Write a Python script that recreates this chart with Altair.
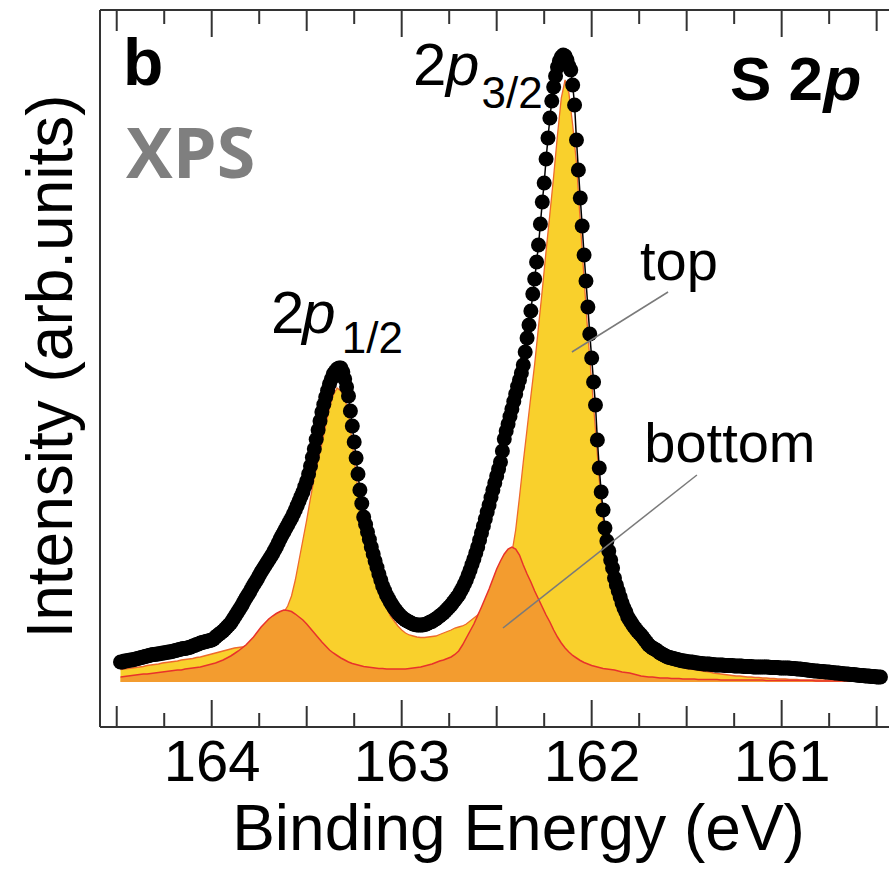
import altair as alt
import pandas as pd

# ---------------- data ----------------
E_START = 164.48          # first binding energy (eV)
DATA_STEP = 0.01          # spacing of measured points (eV)
FIT_STEP = 0.02           # spacing of fitted component curves (eV)

# measured S 2p intensity (arb. units), from 164.48 eV towards lower energy
data_intensity = [
    20, 20, 21, 21, 21.5, 22, 22, 22.5, 23, 23.5,
    24, 24.5, 25, 25.5, 26, 26.5, 27, 27.5, 27.5, 28,
    28, 28.5, 29, 29, 29.5, 30, 30, 30.5, 31, 31.5,
    32, 32.5, 33, 33.5, 33.5, 34, 34.5, 35, 36, 36.5,
    37.5, 38, 39, 39.5, 40, 40.5, 41, 41.5, 42, 43,
    45, 46.5, 48, 49.5, 51, 53, 55, 57, 59, 62,
    65, 68, 71, 74, 77, 80.5, 84, 87, 90, 93.5,
    97, 100, 103, 106.5, 110, 113, 116, 119, 122, 125,
    128, 131.5, 135, 139, 143, 146.5, 150, 153.5, 157, 160.5,
    164, 168, 172, 176.5, 181, 185.5, 190, 195.5, 201, 208,
    216, 224.5, 233, 242.5, 252, 261, 270, 277.5, 285, 291.5,
    298, 303, 308, 310.5, 313, 314, 314, 310, 303, 295,
    286, 271, 256, 240, 224, 208, 192, 178.5, 165, 157.5,
    150, 142.5, 135, 128, 121, 114.5, 108, 102, 96, 91.5,
    87, 83.5, 80, 77, 74, 71.5, 69, 67, 65, 63.5,
    62, 61, 60, 59, 58, 57.5, 57, 57, 57, 57,
    57.5, 58, 59, 60, 60.5, 62, 63, 64.5, 66, 67.5,
    69, 71, 73, 75, 77, 79.5, 82, 84.5, 87, 90.5,
    94, 98, 102, 107, 112, 117.5, 123, 129, 135, 142,
    149, 156, 163, 170, 177, 184.5, 192, 199, 206, 213,
    220, 231, 243, 251, 258, 265.5, 273, 280.5, 288, 295.5,
    302, 309, 317, 330, 344, 357, 371, 388, 403, 420,
    437, 458, 480, 499, 523, 544, 564, 581, 595, 606,
    615, 621, 625, 627, 626, 622, 616, 612, 597, 577,
    542, 512, 484, 456, 427, 401, 375, 348, 324, 300,
    277, 242, 214, 190, 172, 154, 141, 131, 122, 114,
    104, 97, 91, 85, 79, 74, 70, 65, 62, 59,
    56, 53.5, 51, 49, 47, 44.5, 42, 39.5, 37, 35.5,
    34, 33, 32, 30.5, 29, 28, 27, 26, 25, 24.5,
    24, 23.5, 23, 22.5, 22, 21.5, 21, 21, 20.5, 20,
    20, 20, 19.5, 19, 19, 18.5, 18.5, 18, 18, 18,
    18, 17.5, 17.5, 17, 17, 17, 17, 17, 16.5, 16.5,
    16.5, 16.5, 16.5, 16, 16, 16, 16, 16, 15.5, 15.5,
    15.5, 15.5, 15.5, 15, 15, 15, 15, 15, 15, 15,
    15, 15, 14.5, 14.5, 14.5, 14.5, 14.5, 14, 14, 14,
    14, 14, 14, 13.5, 13.5, 13.5, 13, 13, 13, 12.5,
    12.5, 12, 12, 11.5, 11.5, 11, 11, 11, 10.5, 10.5,
    10.5, 10, 10, 10, 9.5, 9.5, 9, 9, 9, 8.5,
    8.5, 8, 8, 8, 7.5, 7.5, 7.5, 7, 7, 6.5,
    6.5, 6.5, 6, 6, 6, 5.5, 5.5, 5.5, 5, 5,
    5,
]

# fitted "top" component (yellow), from 164.48 eV in FIT_STEP steps
top_component = [
    12.5, 13, 13.5, 14, 14.5, 15, 15.5, 16.5, 17, 17.5,
    18, 19, 19.5, 20, 20.5, 21, 22, 22.5, 23, 23.5,
    24.5, 25, 26, 27, 28, 29, 30, 31, 32, 33,
    34, 34.5, 35, 36.5, 38.5, 41, 43.5, 46, 50, 53,
    57, 61, 65, 70, 76, 86, 102, 122, 142, 162,
    184, 204, 222, 238, 257, 274, 287, 294, 291, 284,
    269, 239, 207, 177, 150, 135, 120, 107, 93, 83,
    75, 66, 61, 56, 52, 49, 47, 46, 45, 44.5,
    44.5, 45, 45.5, 46, 47.5, 49, 50.5, 52, 54, 55,
    56, 58, 61, 64, 67, 72, 77, 83, 89, 96,
    102, 109, 120, 129, 152, 185, 220, 253, 286, 318,
    355, 392, 431, 468, 506, 547, 584, 602, 589, 557,
    519, 460, 403, 348, 300, 252, 202, 163, 136, 114,
    96, 83, 72, 65, 58, 52, 47, 42, 38, 34,
    30, 27, 24.5, 22, 20, 18.5, 17, 15.5, 14.5, 13.5,
    13, 12.5, 12, 11, 10.5, 10, 9, 8.5, 8, 7.5,
    7, 6.5, 6, 6, 5.5, 5, 5, 4.5, 4.5, 4,
    4, 3.5, 3.5, 3, 3, 3, 2.5, 2.5, 2.5, 2,
    2, 2, 2, 2, 2, 2, 2, 2, 2, 2,
    1.5, 1.5, 1.5, 1.5, 1.5, 1.5, 1.5, 1, 1, 1, 1,
]

# fitted "bottom" component (orange), same energies
bottom_component = [
    5, 5.5, 6, 6.5, 7, 7.5, 8, 8, 8.5, 9,
    9.5, 10, 10.5, 11, 11.5, 12, 12, 13, 13.5, 14,
    14.5, 15, 16, 17, 18, 19, 20.5, 22, 24, 26,
    28.5, 31, 34, 37, 41, 45, 50, 55, 59, 63,
    66, 68.5, 70.5, 72, 71.5, 70.5, 68, 65, 62, 58,
    53.5, 49, 44.5, 40, 36, 32, 29, 26.5, 24, 22,
    20, 18.5, 17.5, 16.5, 15.5, 15, 14.5, 14, 13.5, 13.5,
    13, 13, 13, 13, 13, 13, 13.5, 14, 14.5, 15,
    16, 17, 18, 19.5, 21, 22, 23.5, 25, 27.5, 31,
    37, 44, 51, 58, 66.5, 75, 84, 93, 103, 113,
    121, 128, 133, 135, 133, 127, 117, 108, 100, 91,
    83, 75, 67, 60, 52, 45, 39, 34, 30, 26.5,
    24, 21.5, 19.5, 18, 16.5, 15.5, 14.5, 13.5, 13, 12.5,
    12, 11, 10, 9.5, 9, 8, 7, 6, 5.5, 5,
    5, 4.5, 4, 4, 4, 3.5, 3.5, 3.5, 3, 3,
    3, 3, 2.5, 2.5, 2.5, 2.5, 2.5, 2.5, 2, 2,
    2, 2, 2, 2, 2, 2, 2, 2, 2, 2,
    1.5, 1.5, 1.5, 1.5, 1.5, 1.5, 1.5, 1.5, 1.5, 1.5,
    1.5, 1.5, 1.5, 1, 1, 1, 1, 1, 1, 1,
    1, 1, 1, 1, 1, 1, 1, 1, 1, 1, 1,
]

major_ticks = [164, 163, 162, 161]
half_ticks = [164.5, 163.5, 162.5, 161.5, 160.5]
quarter_ticks = [164.25, 163.75, 163.25, 162.75, 162.25, 161.75, 161.25, 160.75]

# annotation anchors in data coordinates (E, I)
leaders = [
    {"E": 161.598, "I": 390, "E2": 162.104, "I2": 330},   # top
    {"E": 161.446, "I": 207, "E2": 162.467, "I2": 54},    # bottom
]

# ---------------- chart ----------------
W, H = 789, 717
FONT = "Liberation Sans"

xscale = alt.Scale(domain=[160.435, 164.588], reverse=True, nice=False, zero=False)
yscale = alt.Scale(domain=[-45, 672], nice=False, zero=False)

xaxis = alt.Axis(values=major_ticks, format="d", ticks=False, domain=False, grid=False,
                 labelFont=FONT, labelFontSize=58, labelColor="black", labelPadding=7,
                 labelFlush=False, labelOverlap=False,
                 title="Binding Energy (eV)", titleFont=FONT, titleFontSize=64,
                 titleFontWeight="normal", titleColor="black",
                 titleX=418, titleY=122, titleBaseline="alphabetic", titleAlign="center")
yaxis = alt.Axis(labels=False, ticks=False, domain=False, grid=False,
                 title="Intensity (arb.units)", titleFont=FONT, titleFontSize=64,
                 titleFontWeight="normal", titleColor="black", titleAngle=270,
                 titleX=-29, titleY=356, titleBaseline="alphabetic", titleAlign="center")

X = lambda f="E": alt.X(f"{f}:Q", scale=xscale, axis=xaxis)
Y = lambda f="I": alt.Y(f"{f}:Q", scale=yscale, axis=yaxis)

data_df = pd.DataFrame({
    "E": [round(E_START - DATA_STEP * i, 3) for i in range(len(data_intensity))],
    "I": data_intensity,
})
fit_df = pd.DataFrame({
    "E": [round(E_START - FIT_STEP * i, 3) for i in range(len(top_component))],
    "top": top_component,
    "bottom": bottom_component,
})

top_area = alt.Chart(fit_df).mark_area(
    color="#F9D02C", opacity=1, line={"color": "#EE6A2C", "strokeWidth": 1.3}
).encode(x=X(), y=Y("top"), y2=alt.datum(0))

bottom_area = alt.Chart(fit_df).mark_area(
    color="#F39C2F", opacity=1, line={"color": "#E8322B", "strokeWidth": 1.5}
).encode(x=X(), y=Y("bottom"), y2=alt.datum(0))

envelope = alt.Chart(data_df).mark_line(color="black", strokeWidth=1.5).encode(x=X(), y=Y())
points = alt.Chart(data_df).mark_circle(size=225, color="black", opacity=1).encode(x=X(), y=Y())

leader_lines = alt.Chart(pd.DataFrame(leaders)).mark_rule(color="#7a7a7a", strokeWidth=1.5).encode(
    x=X(), y=Y(), x2="E2:Q", y2="I2:Q")


def label(text, e, i, size, weight="normal", style="normal", font=FONT, color="black"):
    return alt.Chart(pd.DataFrame({"E": [e], "I": [i], "t": [text]})).mark_text(
        align="left", baseline="alphabetic", font=font, fontSize=size,
        fontWeight=weight, fontStyle=style, color=color
    ).encode(x=X(), y=Y(), text="t:N")


texts = [
    label("b", 164.467, 597, 66, weight="bold"),
    label("XPS", 164.451, 504, 70, weight="bold", font="Open Sans", color="#7f7f7f"),
    label("2", 162.9405, 597, 60),
    label("p", 162.767, 597, 60, style="italic"),
    label("3/2", 162.58, 574, 44),
    label("2", 163.688, 349, 60),
    label("p", 163.523, 349, 60, style="italic"),
    label("1/2", 163.315, 329, 44),
    label("S 2", 161.272, 582, 62, weight="bold"),
    label("p", 160.78, 582, 62, weight="bold", style="italic"),
    label("top", 161.746, 402, 56),
    label("bottom", 161.723, 220, 56),
]


def ticks(values, length):
    df = pd.DataFrame({"E": values})
    bot = alt.Chart(df).mark_rule(color="#333333", strokeWidth=2).encode(
        x=X(), y=alt.value(H), y2=alt.value(H - length))
    top = alt.Chart(df).mark_rule(color="#333333", strokeWidth=2).encode(
        x=X(), y=alt.value(0), y2=alt.value(length))
    return [bot, top]


one = pd.DataFrame({"k": [0]})
frame = [
    alt.Chart(one).mark_rule(color="#333333", strokeWidth=2).encode(
        x=alt.value(0), y=alt.value(0), y2=alt.value(H)),
    alt.Chart(one).mark_rule(color="#333333", strokeWidth=2).encode(
        x=alt.value(0), x2=alt.value(W), y=alt.value(0)),
    alt.Chart(one).mark_rule(color="#333333", strokeWidth=2).encode(
        x=alt.value(0), x2=alt.value(W), y=alt.value(H)),
]

layers = ([top_area, bottom_area, envelope, points, leader_lines] + texts
          + ticks(major_ticks, 27) + ticks(half_ticks, 21) + ticks(quarter_ticks, 14) + frame)

chart = alt.layer(*layers).properties(
    width=W, height=H,
    padding={"left": 100, "top": 10, "right": 0, "bottom": 145},
    autosize=alt.AutoSizeParams(type="none"),
    background="white",
).configure_view(stroke=None)

chart.save("out.html", embed_options={"renderer": "svg", "actions": False})
